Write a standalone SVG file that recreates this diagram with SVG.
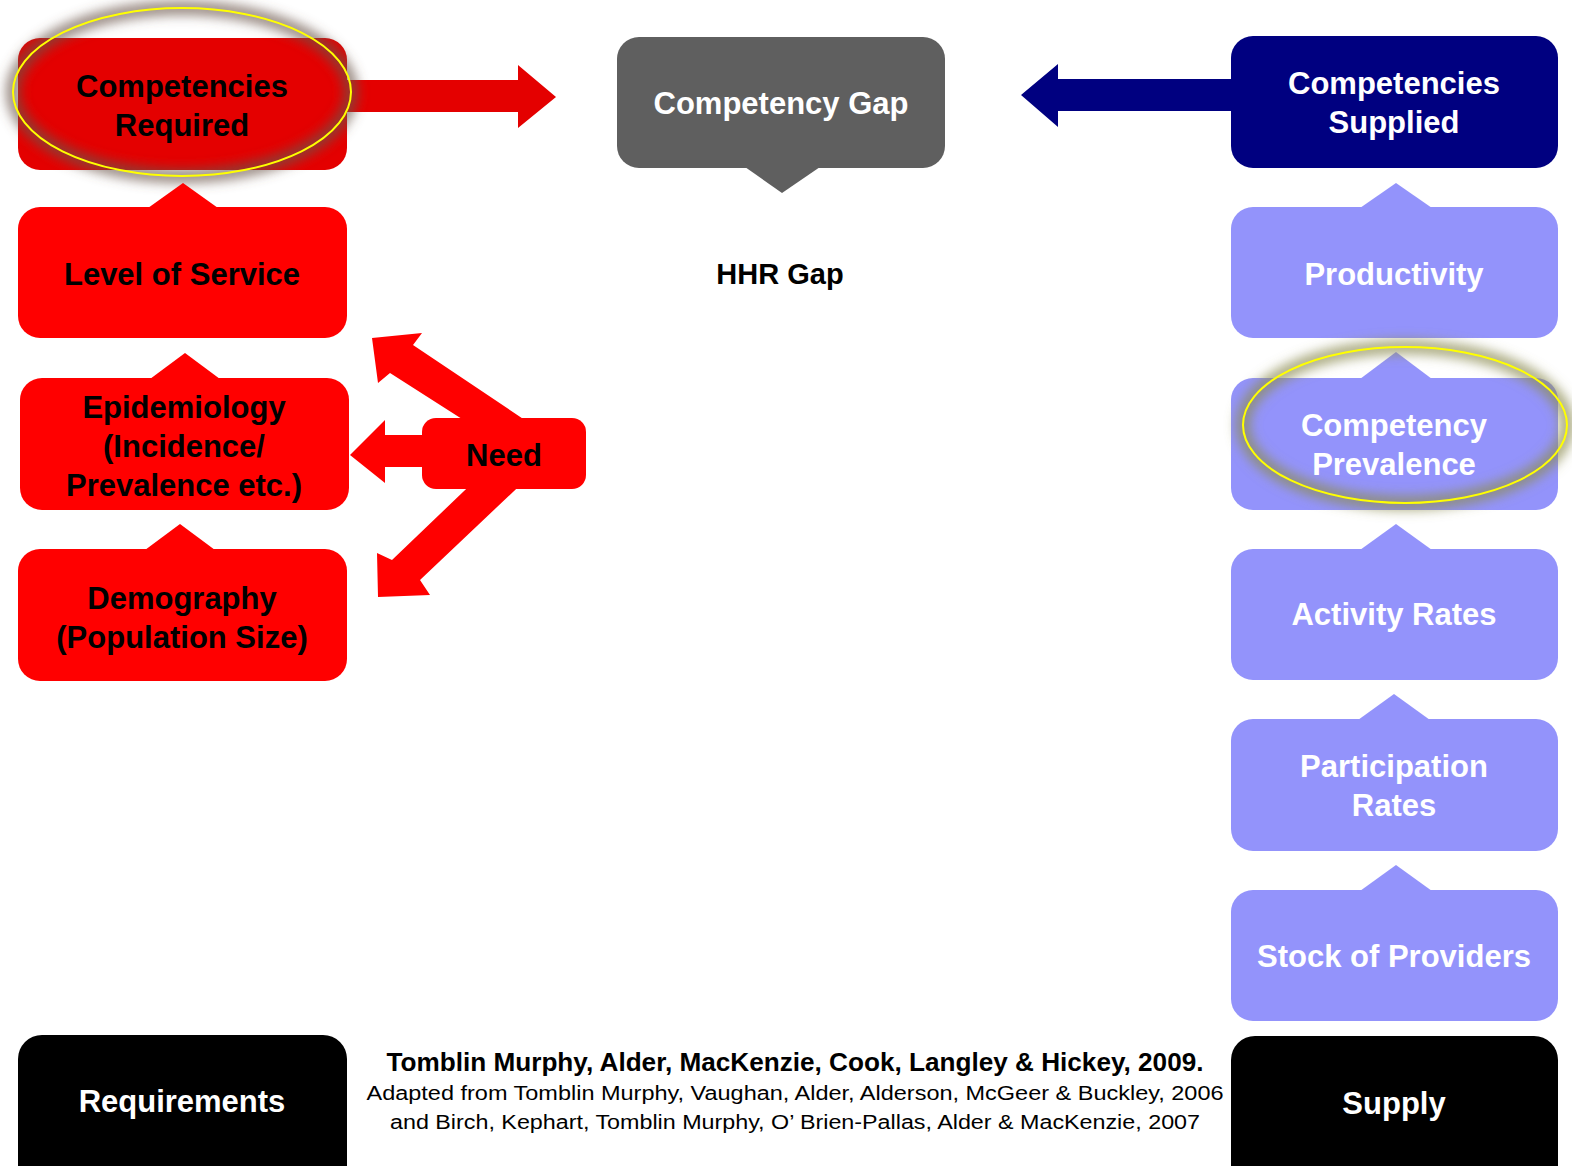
<svg xmlns="http://www.w3.org/2000/svg" width="1572" height="1166" viewBox="0 0 1572 1166">
  <style>
    .lbl { font-family: "Liberation Sans", Arial, sans-serif; font-weight: bold; font-size: 31px; text-anchor: middle; }
    .dark { fill: #000000; }
    .light { fill: #ffffff; }
    .red { fill: #ff0000; }
    .red-deep { fill: #e40000; }
    .grey { fill: #5f5f5f; }
    .navy { fill: #000080; }
    .lilac { fill: #9393fb; }
    .black { fill: #000000; }
    .cite { font-family: "Liberation Sans", Arial, sans-serif; text-anchor: middle; fill: #000000; }
    .ring { fill: none; stroke: #ffff00; stroke-width: 2; }
  </style>
  <defs>
    <filter id="halo" x="-20%" y="-30%" width="140%" height="160%">
      <feGaussianBlur stdDeviation="6"/>
    </filter>
  </defs>

  <rect width="1572" height="1166" fill="#ffffff"/>

  <!-- connectors -->
  <g id="connectors">
    <polygon class="red-deep" points="340,80 518,80 518,65 556,97 518,128 518,112 340,112"/>
    <polygon class="navy" points="1240,79 1058,79 1058,64 1021,95 1058,127 1058,111 1240,111"/>
    <polygon class="red" points="372,338 422,333 413,345 556,441 498,442 390,373 378,383"/>
    <polygon class="red" points="350,455 385,420 385,435 430,435 430,467 385,467 385,483"/>
    <polygon class="red" points="378,597 377,553 392,560 487,469 534,472 420,580 430,595"/>
  </g>

  <!-- requirements column -->
  <g id="competencies-required">
    <rect class="red-deep" x="18" y="38" width="329" height="132" rx="22"/>
    <ellipse cx="182" cy="92" rx="169" ry="84" fill="none" stroke="#6b5548" stroke-opacity="0.7" stroke-width="14" filter="url(#halo)"/>
    <ellipse class="ring" cx="182" cy="92" rx="169" ry="84"/>
    <text class="lbl dark" x="182" y="97">Competencies</text>
    <text class="lbl dark" x="182" y="136">Required</text>
  </g>
  <g id="level-of-service">
    <rect class="red" x="18" y="207" width="329" height="131" rx="22"/>
    <polygon class="red" points="148,208 183,183 218,208"/>
    <text class="lbl dark" x="182" y="285">Level of Service</text>
  </g>
  <g id="epidemiology">
    <rect class="red" x="20" y="378" width="329" height="132" rx="22"/>
    <polygon class="red" points="150,379 185,353 220,379"/>
    <text class="lbl dark" x="184" y="418">Epidemiology</text>
    <text class="lbl dark" x="184" y="457">(Incidence/</text>
    <text class="lbl dark" x="184" y="496">Prevalence etc.)</text>
  </g>
  <g id="demography">
    <rect class="red" x="18" y="549" width="329" height="132" rx="22"/>
    <polygon class="red" points="145,550 180,524 215,550"/>
    <text class="lbl dark" x="182" y="609">Demography</text>
    <text class="lbl dark" x="182" y="648">(Population Size)</text>
  </g>
  <g id="need">
    <rect class="red" x="422" y="418" width="164" height="71" rx="14"/>
    <text class="lbl dark" x="504" y="466">Need</text>
  </g>
  <g id="requirements">
    <rect class="black" x="18" y="1035" width="329" height="160" rx="24"/>
    <text class="lbl light" x="182" y="1112">Requirements</text>
  </g>

  <!-- gap -->
  <g id="competency-gap">
    <rect class="grey" x="617" y="37" width="328" height="131" rx="22"/>
    <polygon class="grey" points="745,167 820,167 782,193"/>
    <text class="lbl light" x="781" y="114">Competency Gap</text>
  </g>
  <g id="hhr-gap">
    <text class="lbl dark" x="780" y="284" style="font-size:29px">HHR Gap</text>
  </g>

  <!-- supply column -->
  <g id="competencies-supplied">
    <rect class="navy" x="1231" y="36" width="327" height="132" rx="22"/>
    <text class="lbl light" x="1394" y="94">Competencies</text>
    <text class="lbl light" x="1394" y="133">Supplied</text>
  </g>
  <g id="productivity">
    <rect class="lilac" x="1231" y="207" width="327" height="131" rx="22"/>
    <polygon class="lilac" points="1360,208 1396,183 1432,208"/>
    <text class="lbl light" x="1394" y="285">Productivity</text>
  </g>
  <g id="competency-prevalence">
    <rect class="lilac" x="1231" y="378" width="327" height="132" rx="22"/>
    <polygon class="lilac" points="1360,379 1396,352 1432,379"/>
    <ellipse cx="1405" cy="425" rx="162" ry="78" fill="none" stroke="#8c8c52" stroke-opacity="0.75" stroke-width="14" filter="url(#halo)"/>
    <ellipse class="ring" cx="1405" cy="425" rx="162" ry="78"/>
    <text class="lbl light" x="1394" y="436">Competency</text>
    <text class="lbl light" x="1394" y="475">Prevalence</text>
  </g>
  <g id="activity-rates">
    <rect class="lilac" x="1231" y="549" width="327" height="131" rx="22"/>
    <polygon class="lilac" points="1360,550 1396,524 1432,550"/>
    <text class="lbl light" x="1394" y="625">Activity Rates</text>
  </g>
  <g id="participation-rates">
    <rect class="lilac" x="1231" y="719" width="327" height="132" rx="22"/>
    <polygon class="lilac" points="1358,720 1394,694 1430,720"/>
    <text class="lbl light" x="1394" y="777">Participation</text>
    <text class="lbl light" x="1394" y="816">Rates</text>
  </g>
  <g id="stock-of-providers">
    <rect class="lilac" x="1231" y="890" width="327" height="131" rx="22"/>
    <polygon class="lilac" points="1360,891 1396,865 1432,891"/>
    <text class="lbl light" x="1394" y="967">Stock of Providers</text>
  </g>
  <g id="supply">
    <rect class="black" x="1231" y="1036" width="327" height="160" rx="24"/>
    <text class="lbl light" x="1394" y="1114">Supply</text>
  </g>

  <!-- source -->
  <g id="citation">
    <text class="cite" x="795" y="1071" font-size="25" font-weight="bold" textLength="817" lengthAdjust="spacingAndGlyphs">Tomblin Murphy, Alder, MacKenzie, Cook, Langley &amp; Hickey, 2009.</text>
    <text class="cite" x="795" y="1100" font-size="20" textLength="857" lengthAdjust="spacingAndGlyphs">Adapted from Tomblin Murphy, Vaughan, Alder, Alderson, McGeer &amp; Buckley, 2006</text>
    <text class="cite" x="795" y="1129" font-size="20" textLength="810" lengthAdjust="spacingAndGlyphs">and Birch, Kephart, Tomblin Murphy, O’ Brien-Pallas, Alder &amp; MacKenzie, 2007</text>
  </g>
</svg>
